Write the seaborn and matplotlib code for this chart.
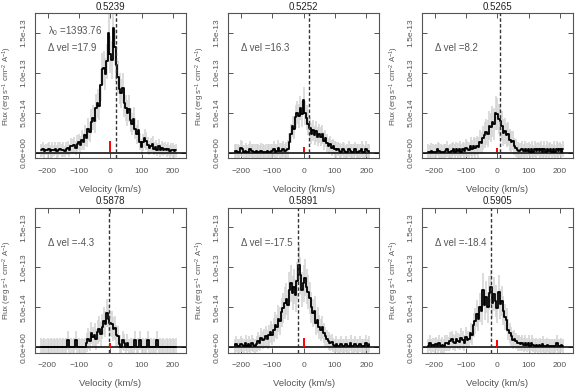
import matplotlib
matplotlib.use("Agg")
import matplotlib.pyplot as plt
import seaborn as sns
import numpy as np

# velocity grid (km/s)
vel = [-220, -215, -210, -205, -200, -195, -190, -185, -180, -175,
       -170, -165, -160, -155, -150, -145, -140, -135, -130, -125,
       -120, -115, -110, -105, -100, -95, -90, -85, -80, -75,
       -70, -65, -60, -55, -50, -45, -40, -35, -30, -25,
       -20, -15, -10, -5, 0, 5, 10, 15, 20, 25,
       30, 35, 40, 45, 50, 55, 60, 65, 70, 75,
       80, 85, 90, 95, 100, 105, 110, 115, 120, 125,
       130, 135, 140, 145, 150, 155, 160, 165, 170, 175,
       180, 185, 190, 195, 200, 205, 210]

titles = ["0.5239", "0.5252", "0.5265", "0.5878", "0.5891", "0.5905"]
delta_vel = [17.9, 16.3, 8.2, -4.3, -17.5, -18.4]
red_top = [1.5, 0.7, 0.6, 0.6, 1.2, 0.9]   # 1e-14
lambda0 = "1393.76"

# fluxes and errors in units of 1e-14 erg/s/cm2/A
flux_1 = [0.3, 0.5, 0.2, 0.4, 0.3, 0.5, 0.2, 0.4, 0.3, 0.5,
          0.2, 0.4, 0.5, 0.3, 0.4, 0.2, 0.5, 0.6, 0.3, 0.8,
          0.8, 1.0, 0.6, 1.1, 1.3, 1.0, 1.6, 1.4, 2.2, 1.9,
          3.0, 2.6, 3.9, 4.4, 4.0, 5.6, 6.2, 5.8, 8.4, 10.4,
          10.6, 9.8, 11.4, 14.9, 12.3, 11.6, 15.6, 13.2, 11.0, 9.4,
          8.0, 7.4, 8.1, 6.2, 5.6, 5.0, 5.5, 4.1, 3.6, 4.2,
          3.0, 2.3, 2.8, 1.4, 0.7, 1.3, 1.8, 1.5, 1.0, 0.6,
          0.9, 1.1, 0.5, 0.7, 0.4, 0.8, 0.3, 0.6, 0.4, 0.5,
          0.3, 0.5, 0.2, 0.4, 0.3, 0.2, 0.3]
err_1 = [0.8, 0.9, 0.8, 0.7, 0.9, 0.8, 0.8, 0.9, 0.7, 0.8,
         0.8, 0.9, 0.8, 0.8, 0.9, 0.7, 0.8, 0.9, 0.8, 1.0,
         0.9, 1.0, 0.9, 1.1, 1.0, 1.1, 1.2, 1.1, 1.3, 1.2,
         1.4, 1.3, 1.5, 1.6, 1.5, 1.7, 1.8, 1.7, 2.0, 2.1,
         2.1, 2.0, 2.2, 2.4, 2.3, 2.4, 2.5, 2.3, 2.2, 2.1,
         1.9, 1.8, 1.9, 1.7, 1.6, 1.6, 1.7, 1.5, 1.4, 1.5,
         1.3, 1.2, 1.3, 1.1, 1.0, 1.1, 1.2, 1.1, 1.0, 0.9,
         0.9, 1.0, 0.8, 0.9, 0.8, 0.9, 0.8, 0.9, 0.8, 0.8,
         0.8, 0.9, 0.8, 0.8, 0.9, 0.8, 0.8]

flux_2 = [0.1, 0.2, 0.1, 0.1, 0.6, 0.5, 0.1, 0.2, 0.1, 0.1,
          0.5, 0.2, 0.1, 0.1, 0.2, 0.1, 0.1, 0.2, 0.1, 0.1,
          0.1, 0.2, 0.1, 0.1, 0.2, 0.5, 0.1, 0.2, 0.6, 0.2,
          0.2, 0.5, 0.2, 0.3, 0.5, 1.4, 2.4, 3.3, 3.0, 4.5,
          5.0, 4.6, 5.6, 4.8, 6.6, 5.0, 4.4, 3.6, 3.1, 2.4,
          2.8, 2.2, 2.7, 2.0, 2.4, 2.0, 2.3, 1.5, 1.8, 1.2,
          0.9, 1.1, 0.6, 0.8, 0.5, 0.3, 0.5, 0.2, 0.1, 0.5,
          0.2, 0.1, 0.1, 0.5, 0.2, 0.1, 0.1, 0.5, 0.1, 0.1,
          0.2, 0.5, 0.1, 0.1, 0.5, 0.2, 0.1]
err_2 = [1.0, 0.9, 1.0, 0.9, 1.0, 1.0, 0.9, 1.0, 0.9, 1.0,
         1.0, 0.9, 1.0, 1.0, 0.9, 1.0, 0.9, 1.0, 1.0, 0.9,
         1.0, 0.9, 1.0, 1.0, 0.9, 1.0, 1.0, 0.9, 1.0, 1.0,
         1.0, 1.0, 0.9, 1.0, 1.1, 1.1, 1.2, 1.3, 1.3, 1.4,
         1.4, 1.5, 1.5, 1.6, 1.6, 1.5, 1.5, 1.4, 1.4, 1.3,
         1.3, 1.2, 1.3, 1.2, 1.2, 1.2, 1.2, 1.1, 1.1, 1.1,
         1.0, 1.0, 1.0, 0.9, 1.0, 1.0, 0.9, 1.0, 1.0, 0.9,
         1.0, 0.9, 1.0, 1.0, 0.9, 1.0, 1.0, 0.9, 1.0, 1.0,
         0.9, 1.0, 1.0, 0.9, 1.0, 0.9, 1.0]

flux_3 = [0.1, 0.1, 0.2, 0.1, 0.1, 0.1, 0.5, 0.2, 0.1, 0.1,
          0.1, 0.2, 0.5, 0.1, 0.1, 0.2, 0.5, 0.1, 0.5, 0.2,
          0.5, 0.1, 0.5, 0.2, 0.6, 0.5, 0.3, 0.8, 0.5, 0.8,
          0.6, 0.9, 0.7, 1.4, 1.2, 1.8, 2.2, 2.6, 2.4, 3.4,
          3.2, 3.9, 3.6, 5.0, 4.8, 4.2, 4.0, 3.4, 2.5, 2.7,
          2.2, 2.3, 1.6, 1.4, 1.5, 0.8, 0.6, 0.3, 0.2, 0.3,
          0.5, 0.2, 0.5, 0.2, 0.5, 0.1, 0.5, 0.1, 0.5, 0.2,
          0.5, 0.2, 0.5, 0.1, 0.5, 0.1, 0.5, 0.2, 0.5, 0.1,
          0.5, 0.1, 0.5, 0.2, 0.5, 0.1, 0.5]
err_3 = [1.0, 0.9, 1.0, 1.0, 0.9, 1.0, 0.9, 1.0, 1.0, 0.9,
         1.0, 0.9, 1.0, 0.9, 1.0, 1.0, 0.9, 1.0, 0.9, 1.0,
         1.0, 1.0, 0.9, 1.0, 1.1, 1.0, 1.1, 1.2, 1.1, 1.2,
         1.3, 1.2, 1.3, 1.4, 1.4, 1.5, 1.6, 1.6, 1.7, 1.8,
         1.8, 1.9, 2.0, 2.1, 2.0, 1.9, 2.0, 1.8, 1.7, 1.6,
         1.5, 1.5, 1.4, 1.3, 1.2, 1.1, 1.1, 1.0, 1.0, 0.9,
         1.0, 0.9, 1.0, 1.0, 0.9, 1.0, 1.0, 0.9, 1.0, 1.0,
         0.9, 1.0, 1.0, 0.9, 1.0, 0.9, 1.0, 1.0, 0.9, 1.0,
         1.0, 0.9, 1.0, 1.0, 0.9, 1.0, 1.0]

flux_4 = [0.1, 0.1, 0.1, 0.1, 0.1, 0.1, 0.1, 0.1, 0.1, 0.1,
          0.1, 0.1, 0.1, 0.1, 0.1, 0.1, 0.1, 0.9, 0.1, 0.1,
          0.1, 0.1, 0.9, 0.1, 0.1, 0.1, 0.1, 0.1, 0.1, 0.6,
          1.1, 0.8, 1.8, 1.3, 1.6, 1.0, 1.9, 2.3, 1.7, 2.6,
          3.3, 2.9, 4.3, 3.6, 3.0, 2.9, 2.3, 2.4, 1.5, 1.4,
          0.4, 0.1, 0.9, 0.6, 0.1, 0.6, 0.1, 0.1, 0.1, 0.1,
          0.9, 0.1, 0.1, 0.9, 0.1, 0.1, 0.1, 0.1, 0.9, 0.1,
          0.1, 0.1, 0.1, 0.1, 0.9, 0.1, 0.1, 0.1, 0.1, 0.1,
          0.1, 0.1, 0.1, 0.1, 0.1, 0.1, 0.1]
err_4 = [1.1, 1.0, 1.1, 1.0, 1.1, 1.0, 1.1, 1.0, 1.1, 1.0,
         1.1, 1.0, 1.1, 1.0, 1.1, 1.0, 1.1, 1.2, 1.0, 1.1,
         1.0, 1.1, 1.2, 1.0, 1.1, 1.0, 1.1, 1.0, 1.1, 1.2,
         1.3, 1.2, 1.4, 1.3, 1.4, 1.3, 1.5, 1.6, 1.5, 1.6,
         1.7, 1.6, 1.8, 1.7, 1.6, 1.6, 1.5, 1.5, 1.3, 1.3,
         1.1, 1.0, 1.2, 1.1, 1.0, 1.1, 1.0, 1.1, 1.0, 1.1,
         1.2, 1.0, 1.1, 1.2, 1.0, 1.1, 1.0, 1.1, 1.2, 1.0,
         1.1, 1.0, 1.1, 1.0, 1.2, 1.0, 1.1, 1.0, 1.1, 1.0,
         1.1, 1.0, 1.1, 1.0, 1.1, 1.0, 1.1]

flux_5 = [0.2, 0.4, 0.2, 0.2, 0.4, 0.3, 0.2, 0.5, 0.2, 0.4,
          0.2, 0.5, 0.3, 0.2, 0.4, 0.8, 0.6, 1.2, 0.9, 1.1,
          1.4, 1.0, 1.5, 1.9, 1.6, 2.2, 2.8, 2.5, 3.6, 3.3,
          4.4, 4.9, 5.6, 6.0, 5.3, 7.2, 8.0, 6.8, 7.6, 6.5,
          8.3, 10.3, 9.0, 7.2, 8.0, 8.7, 7.6, 6.9, 6.2, 5.0,
          4.3, 4.6, 3.1, 3.4, 2.6, 2.2, 2.5, 1.8, 1.4, 1.1,
          0.8, 0.5, 0.7, 0.3, 0.2, 0.4, 0.2, 0.2, 0.4, 0.2,
          0.2, 0.4, 0.2, 0.2, 0.5, 0.2, 0.2, 0.4, 0.2, 0.2,
          0.4, 0.2, 0.2, 0.2, 0.5, 0.2, 0.4]
err_5 = [0.9, 1.0, 0.9, 0.9, 1.0, 0.9, 0.9, 1.0, 0.9, 1.0,
         0.9, 1.0, 0.9, 0.9, 1.0, 1.1, 1.0, 1.2, 1.1, 1.2,
         1.3, 1.2, 1.3, 1.4, 1.3, 1.5, 1.6, 1.5, 1.7, 1.7,
         1.8, 1.9, 2.0, 2.0, 1.9, 2.2, 2.3, 2.1, 2.2, 2.1,
         2.3, 2.5, 2.3, 2.2, 2.3, 2.3, 2.2, 2.1, 2.0, 1.9,
         1.8, 1.8, 1.6, 1.6, 1.5, 1.4, 1.4, 1.3, 1.2, 1.1,
         1.1, 1.0, 1.0, 0.9, 0.9, 1.0, 0.9, 0.9, 1.0, 0.9,
         0.9, 1.0, 0.9, 0.9, 1.0, 0.9, 0.9, 1.0, 0.9, 0.9,
         1.0, 0.9, 0.9, 0.9, 1.0, 0.9, 1.0]

flux_6 = [0.2, 0.5, 0.2, 0.3, 0.2, 0.4, 0.2, 0.5, 0.2, 0.3,
          0.2, 0.5, 0.6, 0.4, 0.8, 1.0, 0.7, 0.6, 1.0, 0.8,
          0.7, 1.2, 0.9, 0.6, 1.3, 0.9, 1.0, 1.8, 1.6, 2.8,
          3.3, 4.2, 3.6, 5.0, 4.6, 7.2, 5.3, 6.3, 5.0, 6.8,
          7.5, 5.6, 6.7, 5.8, 4.9, 6.9, 5.4, 5.8, 4.6, 3.8,
          3.4, 2.2, 1.8, 1.4, 0.9, 1.1, 0.8, 0.5, 0.6, 0.4,
          0.6, 0.3, 0.5, 0.3, 0.5, 0.2, 0.6, 0.3, 0.2, 0.3,
          0.2, 0.3, 0.2, 0.4, 0.2, 0.2, 0.3, 0.2, 0.2, 0.2,
          0.2, 0.2, 0.5, 0.2, 0.2, 0.3, 0.2]
err_6 = [0.9, 1.0, 0.9, 0.9, 1.0, 0.9, 0.9, 1.0, 0.9, 1.0,
         0.9, 1.0, 1.0, 0.9, 1.1, 1.1, 1.0, 1.0, 1.1, 1.0,
         1.0, 1.2, 1.1, 1.0, 1.2, 1.1, 1.1, 1.3, 1.3, 1.5,
         1.6, 1.7, 1.6, 1.8, 1.8, 2.1, 1.9, 2.0, 1.9, 2.1,
         2.2, 1.9, 2.1, 2.0, 1.9, 2.1, 1.9, 1.9, 1.8, 1.6,
         1.5, 1.3, 1.3, 1.2, 1.1, 1.1, 1.0, 1.0, 1.0, 0.9,
         1.0, 0.9, 1.0, 0.9, 1.0, 0.9, 1.0, 0.9, 0.9, 0.9,
         0.9, 0.9, 0.9, 1.0, 0.9, 0.9, 0.9, 0.9, 0.9, 0.9,
         0.9, 0.9, 1.0, 0.9, 0.9, 0.9, 0.9]

fluxes = [flux_1, flux_2, flux_3, flux_4, flux_5, flux_6]
errors = [err_1, err_2, err_3, err_4, err_5, err_6]

xticks = [-200, -100, 0, 100, 200]
yticks = [0.0, 5e-14, 1e-13, 1.5e-13]
ytick_labels = ["0.0e+00", "5.0e-14", "1.0e-13", "1.5e-13"]
unit = 1e-14

sns.set_theme(style="ticks")
plt.rcParams["font.family"] = ["Liberation Sans", "DejaVu Sans"]
plt.rcParams["mathtext.fontset"] = "custom"
plt.rcParams["mathtext.rm"] = "Liberation Sans"
plt.rcParams["mathtext.it"] = "Liberation Sans"
plt.rcParams["mathtext.sf"] = "Liberation Sans"

grey = "#555555"
fig = plt.figure(figsize=(5.81, 3.88), dpi=100, facecolor="white")

col_x = [0.0602, 0.393, 0.7263]
row_y = [0.5928, 0.091]
w, h = 0.26, 0.373

v = np.array(vel)
for k in range(6):
    r, c = divmod(k, 3)
    ax = fig.add_axes([col_x[c], row_y[r], w, h])
    f = np.array(fluxes[k]) * unit
    e = np.array(errors[k]) * unit

    # error bars, continuum, spectrum
    ax.vlines(v, f - e, f + e, color="#d2d2d2", lw=1.1, zorder=1)
    ax.axhline(0, color="black", lw=1.1, zorder=2)
    sns.lineplot(x=v, y=f, ax=ax, drawstyle="steps-mid", color="black",
                 lw=1.3, estimator=None, zorder=3)
    ax.axvline(delta_vel[k], color="#333333", ls=(0, (2.5, 1.6)), lw=1.0, zorder=4)
    ax.vlines(0, 0.1 * unit, red_top[k] * unit, color="red", lw=1.4, zorder=5)

    ax.set_xlim(-240, 242)
    ax.set_ylim(-0.65 * unit, 17.4 * unit)
    ax.set_xticks(xticks)
    ax.set_yticks(yticks)
    ax.set_yticklabels(ytick_labels, rotation=90, va="center")
    ax.tick_params(direction="in", length=3.5, width=0.7, top=True, right=True,
                   colors=grey, labelsize=6)
    ax.tick_params(axis="x", pad=7)
    ax.tick_params(axis="y", pad=5.5)
    for s in ax.spines.values():
        s.set_color(grey)
        s.set_linewidth(0.8)

    ax.set_title(titles[k], fontsize=7, color="#222222", pad=2.5)
    ax.set_xlabel("Velocity (km/s)", fontsize=6.8, color=grey)
    ax.xaxis.set_label_coords(0.5, -0.185)
    ax.set_ylabel(r"Flux (erg s$^{-1}$ cm$^{-2}$ A$^{-1}$)", fontsize=5.6, color=grey)
    ax.yaxis.set_label_coords(-0.14, 0.5)

    if k == 0:
        ax.text(0.086, 0.878, r"$\lambda_0$ =" + lambda0, transform=ax.transAxes,
                fontsize=7, color=grey, va="center", ha="left")
    ax.text(0.086, 0.76, "Δ vel =" + str(delta_vel[k]), transform=ax.transAxes,
            fontsize=7, color=grey, va="center", ha="left")

fig.savefig("out.png", dpi=100, facecolor="white")
